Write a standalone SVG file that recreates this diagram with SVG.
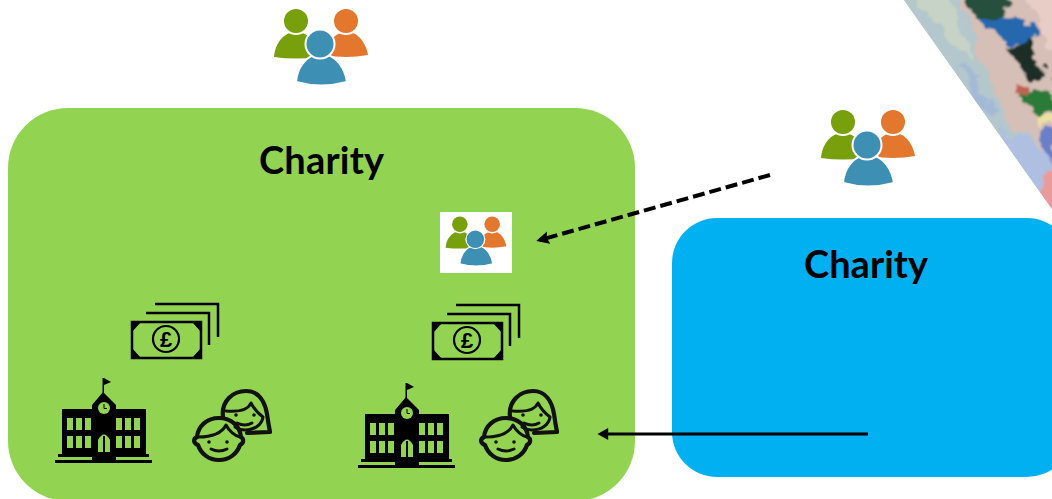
<svg xmlns="http://www.w3.org/2000/svg" width="1052" height="499" viewBox="0 0 1052 499">
<style>
.lbl{font-family:"Lato","Liberation Sans",sans-serif;font-weight:700;font-size:38px;fill:#000}
.ink{fill:none;stroke:#000}
.kid{fill:none;stroke:#111;stroke-width:4.2;stroke-linecap:round;stroke-linejoin:round}
.thin{stroke-width:3}
.win{fill:#92d451}
</style>
<defs>
<filter id="marble" x="-10%" y="-10%" width="120%" height="120%">
<feTurbulence type="fractalNoise" baseFrequency="0.045" numOctaves="4" seed="7" result="n"/>
<feDisplacementMap in="SourceGraphic" in2="n" scale="26" xChannelSelector="R" yChannelSelector="G"/>
<feGaussianBlur stdDeviation="1"/>
</filter>
<clipPath id="tri"><polygon points="904,0 1052,0 1052,209"/></clipPath>
<marker id="ah" viewBox="0 0 10 10" refX="7" refY="5" markerWidth="4" markerHeight="4" markerUnits="strokeWidth" orient="auto"><path d="M1 0L10 5L1 10Z" fill="#000"/></marker>
<marker id="ahd" viewBox="0 0 10 10" refX="7" refY="5" markerWidth="3.200" markerHeight="3.200" markerUnits="strokeWidth" orient="auto"><path d="M0 0L10 5L0 10L1.500 5Z" fill="#000"/></marker>
<symbol id="people" viewBox="270 5 102 85" overflow="visible">
<path d="M274 57C275 44 283 32 296 32C309 32 317 44 319 57Q296 60 274 57Z" fill="#789f0c"/>
<circle cx="296" cy="21" r="14" fill="#fff"/>
<circle cx="296" cy="21" r="12" fill="#789f0c"/>
<path d="M325 55C326 44 334 32 347 32C359 32 366 44 368 55Q346 59 325 55Z" fill="#e3772d"/>
<circle cx="346" cy="21" r="14" fill="#fff"/>
<circle cx="346" cy="21" r="12" fill="#e3772d"/>
<path d="M296 82C297 68 306 54 321 54C336 54 345 68 347 82Q321 89 296 82Z" fill="#3d8fb3" stroke="#fff" stroke-width="2"/>
<circle cx="320" cy="44" r="15.500" fill="#fff"/>
<circle cx="320" cy="44" r="13.500" fill="#3d8fb3"/>
</symbol>
<g id="money">
<path class="ink" stroke-width="2.500" d="M155 304H218V337M146 313H209V345"/>
<rect class="ink" stroke-width="2.500" x="132" y="322" width="69" height="36"/>
<path d="M132 322H141L132 332ZM201 322H192L201 332ZM132 358H141L132 348ZM201 358H192L201 348Z" fill="#000"/>
<circle class="ink" stroke-width="2.200" cx="166" cy="339" r="13"/>
<text x="166" y="347" text-anchor="middle" font-family="Liberation Sans,sans-serif" font-weight="700" font-size="22" fill="#000">£</text>
</g>
<g id="school">
<rect x="55" y="460" width="97" height="3" fill="#000"/>
<rect x="58" y="454" width="91" height="3" fill="#000"/>
<rect x="62" y="409" width="84" height="47" fill="#000"/>
<rect x="92" y="405" width="24" height="58" fill="#000"/>
<path d="M92 405L103 392L116 405Z" fill="#000"/>
<rect x="102.500" y="378" width="1.500" height="16" fill="#000"/>
<path d="M104 378L111 382L104 385Z" fill="#000"/>
<circle class="win" cx="104" cy="408" r="6"/>
<path d="M104 404V408.500H107" fill="none" stroke="#000" stroke-width="1"/>
<path class="win" d="M67 418h6v12h-6zM76 418h6v12h-6zM85 418h6v12h-6zM116 418h6v12h-6zM125 418h6v12h-6zM134 418h6v12h-6zM67 436h6v12h-6zM76 436h6v12h-6zM85 436h6v12h-6zM116 436h6v12h-6zM125 436h6v12h-6zM134 436h6v12h-6z"/>
<path class="win" d="M98 452V440Q104 429 110 440V452H105V436H103V452Z"/>
</g>
<g id="kids">
<path class="kid" d="M223 417C221 401 233 391 246 391C259 391 265 402 267 414C268 421 269 427 270 432L247 433"/>
<path class="kid thin" d="M226 411C238 412 248 410 251 403C254 409 259 414 263 417C262 425 254 430 245 430C241 430 238 429 235 427"/>
<circle cx="236" cy="415" r="1.800" fill="#111"/><circle cx="254" cy="415" r="1.800" fill="#111"/>
<path class="kid thin" d="M237 423Q245 427 252 423"/>
<path class="kid" d="M197 437C198 426 207 418 219 418C231 418 240 426 241 437C244 439 244 443 240 445C237 454 229 460 219 460C209 460 201 454 198 445C193 443 193 439 197 437Z"/>
<path class="kid thin" d="M198 437C209 437 221 435 226 425C229 431 235 436 240 437"/>
<circle cx="209" cy="442" r="1.800" fill="#111"/><circle cx="227" cy="442" r="1.800" fill="#111"/>
<path class="kid thin" d="M211 449Q219 453 227 449"/>
</g>
</defs>

<g id="artwork" clip-path="url(#tri)">
<rect x="900" y="0" width="152" height="215" fill="#b3c7cc"/>
<g filter="url(#marble)">
<rect x="880" y="-20" width="190" height="250" fill="#b3c7cc"/>
<path d="M950 -20H1070V170L1020 130L997 100Z" fill="#d6bfb6"/>
<path d="M1000 125L1070 165V230L1020 175Z" fill="#aebfe2"/>
<path d="M910 -10H945L975 60L955 50Z" fill="#c7d3c6"/>
<path d="M965 70L1000 110L990 120L955 70Z" fill="#a4b9d6"/>
<path d="M1040 175L1070 170V220H1045Z" fill="#eb9a9a"/>
<path d="M960 -10H1010L1000 18L975 18Z" fill="#274f3e"/>
<path d="M980 18L1010 14L1040 30L1030 48L1000 38Z" fill="#2768ae"/>
<path d="M1003 44L1030 45L1050 75L1028 78Z" fill="#1b2f28"/>
<path d="M1020 95L1050 92L1060 112L1030 116Z" fill="#2c7a38"/>
<path d="M1012 84L1035 86L1032 98L1015 98Z" fill="#bd6552"/>
<path d="M1025 -20H1070V60L1045 40Z" fill="#e8cdc6"/>
<path d="M1028 116L1060 118V130L1036 126Z" fill="#ebe0a4"/>
<path d="M1040 130L1060 135V165L1046 150Z" fill="#6a7fc8"/>
</g>
</g>

<g id="charity-green">
<rect x="8" y="108" width="627" height="393" rx="60" fill="#92d451"/>
<text class="lbl" x="259" y="174" textLength="125">Charity</text>
</g>
<g id="charity-blue">
<rect x="672" y="218" width="400" height="259" rx="45" fill="#00b0f0"/>
<text class="lbl" x="804" y="278" textLength="124">Charity</text>
</g>

<g id="people-top"><use href="#people" x="270" y="5" width="102" height="85"/></g>
<g id="people-right"><use href="#people" x="817" y="106" width="102" height="85"/></g>
<g id="people-small">
<rect x="440" y="212" width="72" height="61" fill="#fff"/>
<use href="#people" x="443" y="214" width="66" height="55"/>
</g>

<g id="money-left"><use href="#money"/></g>
<g id="money-right"><use href="#money" x="301" y="1"/></g>
<g id="school-left"><use href="#school"/></g>
<g id="school-right"><use href="#school" x="303" y="5"/></g>
<g id="kids-left"><use href="#kids"/></g>
<g id="kids-right"><use href="#kids" x="287" y="0"/></g>

<g id="connectors">
<line x1="770" y1="175" x2="540" y2="240" stroke="#000" stroke-width="4" stroke-dasharray="12 5" marker-end="url(#ahd)"/>
<line x1="868" y1="434" x2="601" y2="434" stroke="#000" stroke-width="3" marker-end="url(#ah)"/>
</g>
</svg>
